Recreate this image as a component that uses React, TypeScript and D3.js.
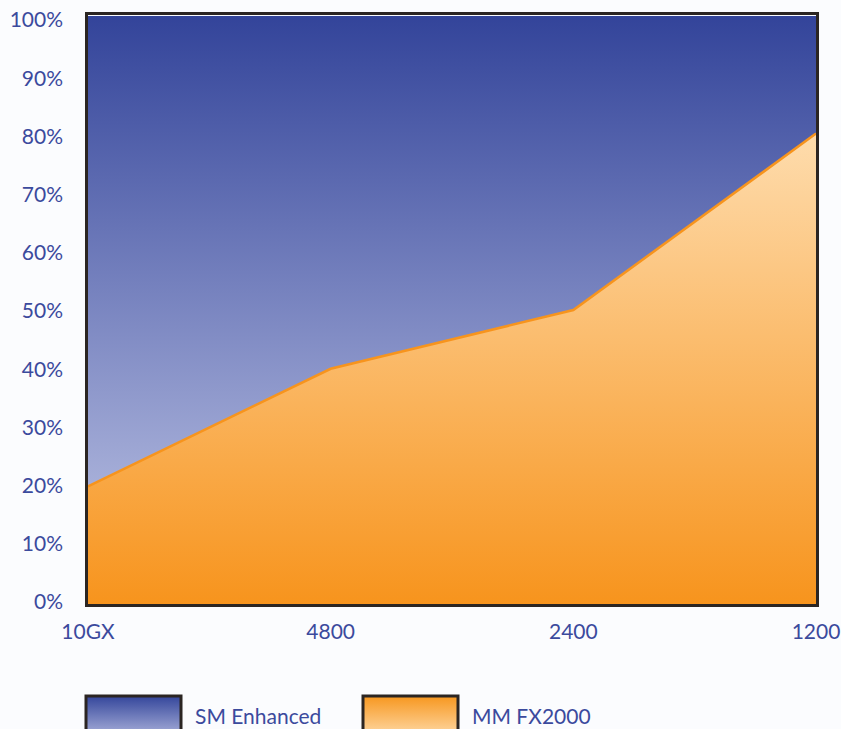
import React, { useEffect, useRef } from "react";
import * as d3 from "d3";

const categories = ["10GX", "4800", "2400", "1200"];
const mmValues = [20, 40, 50, 80];
const yTicks = [0, 10, 20, 30, 40, 50, 60, 70, 80, 90, 100];
const seriesNames = ["SM Enhanced", "MM FX2000"];

const App: React.FC = () => {
  const ref = useRef<SVGSVGElement>(null);

  useEffect(() => {
    if (!ref.current) return;
    const svg = d3.select(ref.current);
    svg.selectAll("*").remove();

    const width = 841;
    const height = 729;
    const left = 88, right = 816, top = 16, bottom = 604;
    const font = "Lato, 'Open Sans', sans-serif";
    const textColor = "#3b4a9d";

    const x = d3.scalePoint<string>().domain(categories).range([left, right]);
    const y = d3.scaleLinear().domain([0, 100]).range([bottom, top]);
    // label positions sit a touch tighter than the plot edges
    const yLab = d3.scaleLinear().domain([0, 100]).range([602, 20]);

    const defs = svg.append("defs");
    const blue = defs.append("linearGradient").attr("id", "blueGrad")
      .attr("gradientUnits", "userSpaceOnUse")
      .attr("x1", 0).attr("y1", top).attr("x2", 0).attr("y2", bottom);
    blue.append("stop").attr("offset", "0%").attr("stop-color", "#33449a");
    blue.append("stop").attr("offset", "100%").attr("stop-color", "#c3c9e8");

    const orange = defs.append("linearGradient").attr("id", "orangeGrad")
      .attr("gradientUnits", "userSpaceOnUse")
      .attr("x1", 0).attr("y1", y(80)).attr("x2", 0).attr("y2", bottom);
    orange.append("stop").attr("offset", "0%").attr("stop-color", "#fedcad");
    orange.append("stop").attr("offset", "100%").attr("stop-color", "#f7941d");

    const blueLeg = defs.append("linearGradient").attr("id", "blueLeg")
      .attr("x1", 0).attr("y1", 0).attr("x2", 0).attr("y2", 1);
    blueLeg.append("stop").attr("offset", "0%").attr("stop-color", "#34469b");
    blueLeg.append("stop").attr("offset", "100%").attr("stop-color", "#a9b0da");

    const orangeLeg = defs.append("linearGradient").attr("id", "orangeLeg")
      .attr("x1", 0).attr("y1", 0).attr("x2", 0).attr("y2", 1);
    orangeLeg.append("stop").attr("offset", "0%").attr("stop-color", "#f7971f");
    orangeLeg.append("stop").attr("offset", "100%").attr("stop-color", "#fed9a6");

    svg.append("rect").attr("width", width).attr("height", height).attr("fill", "#fbfcfe");

    // SM Enhanced background (fills to 100%)
    svg.append("rect")
      .attr("x", left).attr("y", top)
      .attr("width", right - left).attr("height", bottom - top)
      .attr("fill", "url(#blueGrad)");

    const area = d3.area<number>()
      .x((_, i) => x(categories[i]) as number)
      .y0(y(0))
      .y1(d => y(d));

    svg.append("path")
      .datum(mmValues)
      .attr("d", area)
      .attr("fill", "url(#orangeGrad)");

    const line = d3.line<number>()
      .x((_, i) => x(categories[i]) as number)
      .y(d => y(d));

    svg.append("path")
      .datum(mmValues)
      .attr("d", line)
      .attr("fill", "none")
      .attr("stroke", "#f7941d")
      .attr("stroke-width", 2.5);

    // frame
    svg.append("rect")
      .attr("x", left - 1.5).attr("y", top - 2.5)
      .attr("width", right - left + 3).attr("height", bottom - top + 4)
      .attr("fill", "none")
      .attr("stroke", "#2b2522")
      .attr("stroke-width", 3);

    // y labels
    svg.append("g").selectAll("text")
      .data(yTicks)
      .enter()
      .append("text")
      .attr("x", 63)
      .attr("y", d => yLab(d))
      .attr("dy", "0.35em")
      .attr("text-anchor", "end")
      .attr("font-family", font)
      .attr("font-size", 21)
      .attr("fill", textColor)
      .text(d => `${d}%`);

    // x labels
    svg.append("g").selectAll("text")
      .data(categories)
      .enter()
      .append("text")
      .attr("x", d => x(d) as number)
      .attr("y", 639)
      .attr("text-anchor", "middle")
      .attr("font-family", font)
      .attr("font-size", 21)
      .attr("fill", textColor)
      .text(d => d);

    // legend
    const legX = [86, 363];
    const legFill = ["url(#blueLeg)", "url(#orangeLeg)"];
    const leg = svg.append("g").selectAll("g")
      .data(seriesNames)
      .enter()
      .append("g");
    leg.append("rect")
      .attr("x", (_, i) => legX[i]).attr("y", 696)
      .attr("width", 95).attr("height", 40)
      .attr("fill", (_, i) => legFill[i])
      .attr("stroke", "#2b2522")
      .attr("stroke-width", 3);
    leg.append("text")
      .attr("x", (_, i) => legX[i] + 109)
      .attr("y", 724)
      .attr("font-family", font)
      .attr("font-size", 21)
      .attr("fill", textColor)
      .text(d => d);
  }, []);

  return (
    <svg
      ref={ref}
      width={841}
      height={729}
      style={{ position: "absolute", left: 0, top: 0, display: "block" }}
    />
  );
};

export default App;
